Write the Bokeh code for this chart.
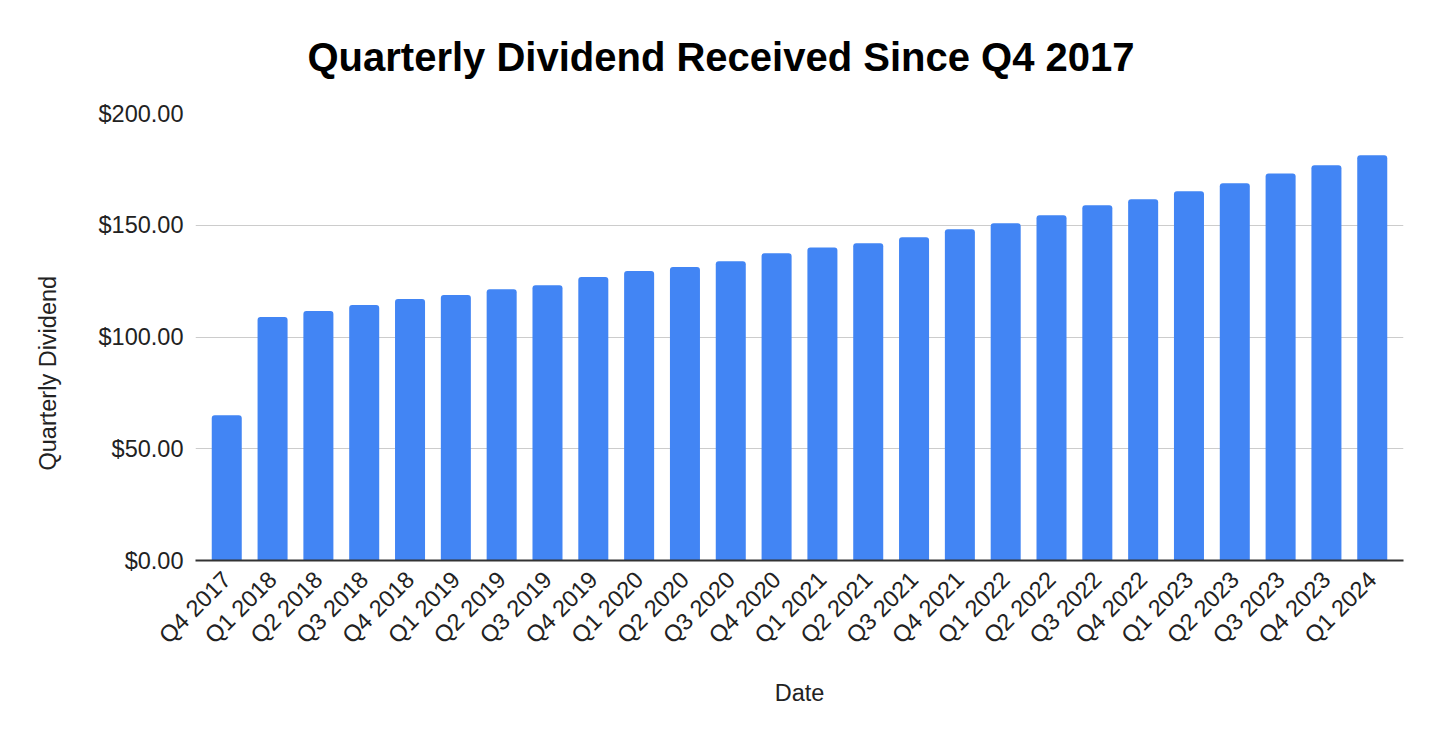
from bokeh.plotting import figure
from bokeh.models import FactorRange, Range1d, FixedTicker, NumeralTickFormatter, ColumnDataSource, Title
from bokeh.embed import file_html
from bokeh.resources import INLINE
from math import pi

quarters = ["Q4 2017", "Q1 2018", "Q2 2018", "Q3 2018", "Q4 2018", "Q1 2019", "Q2 2019",
            "Q3 2019", "Q4 2019", "Q1 2020", "Q2 2020", "Q3 2020", "Q4 2020", "Q1 2021",
            "Q2 2021", "Q3 2021", "Q4 2021", "Q1 2022", "Q2 2022", "Q3 2022", "Q4 2022",
            "Q1 2023", "Q2 2023", "Q3 2023", "Q4 2023", "Q1 2024"]
dividends = [65.0, 108.9, 111.6, 114.3, 117.0, 118.8, 121.4, 123.2, 126.8, 129.5, 131.3,
             133.9, 137.5, 140.0, 142.0, 144.6, 148.2, 150.9, 154.5, 158.9, 161.6, 165.2,
             168.8, 173.2, 176.8, 181.3]
y_ticks = [0, 50, 100, 150, 200]
title_text = "Quarterly Dividend Received Since Q4 2017"
y_label_text = "Quarterly Dividend"
x_label_text = "Date"

source = ColumnDataSource(data=dict(q=quarters, d=dividends))

p = figure(
    width=1424, height=726,
    x_range=FactorRange(factors=quarters, range_padding=0.014, range_padding_units="percent"),
    y_range=Range1d(0, 200),
    output_backend="svg", toolbar_location=None,
    min_border_left=195, min_border_right=21, min_border_top=113, min_border_bottom=166,
)
p.outline_line_color = None
p.background_fill_color = "white"
p.border_fill_color = "white"

p.vbar(x="q", top="d", width=0.655, source=source, color="#4285F4", line_color=None,
       border_radius=(3, 3, 0, 0))

p.add_layout(Title(text=title_text, align="left", offset=112, vertical_align="middle",
                   standoff=67, text_font="Liberation Sans", text_font_size="40px",
                   text_font_style="bold", text_color="#000000"), "above")

p.add_layout(Title(text=y_label_text, align="left", offset=90, vertical_align="middle",
                   standoff=67, text_font="Liberation Sans", text_font_size="23.5px",
                   text_font_style="normal", text_color="#222222"), "left")

# y axis
p.yaxis.ticker = FixedTicker(ticks=y_ticks)
p.yaxis.formatter = NumeralTickFormatter(format="$0.00")
p.yaxis.axis_line_color = None
p.yaxis.major_tick_line_color = None
p.yaxis.minor_tick_line_color = None
p.yaxis.major_tick_out = 0
p.yaxis.minor_tick_out = 0
p.yaxis.major_label_standoff = 12
p.yaxis.major_label_text_font = "Liberation Sans"
p.yaxis.major_label_text_font_size = "23.5px"
p.yaxis.major_label_text_color = "#222222"

# x axis
p.xaxis.axis_line_color = "#333333"
p.xaxis.axis_line_width = 2
p.xaxis.major_tick_line_color = None
p.xaxis.minor_tick_line_color = None
p.xaxis.major_tick_out = 0
p.xaxis.minor_tick_out = 0
p.xaxis.major_label_orientation = pi / 4
p.xaxis.major_label_standoff = 15
p.xaxis.major_label_text_font = "Liberation Sans"
p.xaxis.major_label_text_font_size = "23.5px"
p.xaxis.major_label_text_color = "#222222"
p.xaxis.axis_label = x_label_text
p.xaxis.axis_label_text_font = "Liberation Sans"
p.xaxis.axis_label_text_font_size = "23.5px"
p.xaxis.axis_label_text_font_style = "normal"
p.xaxis.axis_label_text_color = "#222222"
p.xaxis.axis_label_standoff = 19

p.xgrid.grid_line_color = None
p.ygrid.grid_line_color = "#cccccc"
p.ygrid.grid_line_width = 1

open("out.html", "w").write(file_html(p, INLINE))
